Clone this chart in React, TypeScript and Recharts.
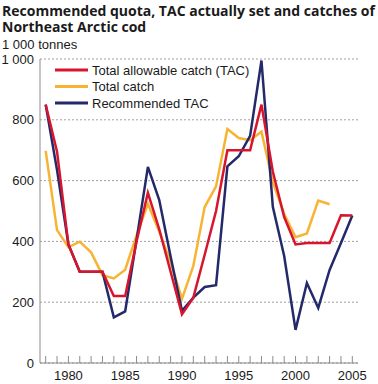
import { LineChart, Line, XAxis, YAxis, CartesianGrid } from 'recharts';

const years = [
  1978, 1979, 1980, 1981, 1982, 1983, 1984, 1985, 1986, 1987, 1988, 1989, 1990, 1991,
  1992, 1993, 1994, 1995, 1996, 1997, 1998, 1999, 2000, 2001, 2002, 2003, 2004, 2005,
];
const tac = [
  850, 695, 390, 300, 300, 300, 220, 220, 400, 560, 440, 300, 160, 215,
  356, 500, 700, 700, 700, 850, 630, 480, 390, 395, 395, 395, 486, 485,
];
const totalCatch: (number | null)[] = [
  698, 437, 381, 399, 364, 289, 278, 307, 420, 524, 432, 332, 211, 319,
  513, 581, 770, 740, 733, 761, 595, 490, 414, 426, 534, 522, null, null,
];
const recommended = [
  850, 635, 390, 300, 300, 300, 150, 170, 405, 645, 536, 350, 172, 215,
  250, 256, 647, 680, 747, 995, 514, 352, 109, 263, 181, 306, 395, 485,
];
const yTicks = [0, 200, 400, 600, 800, 1000];
const labelYears = [1980, 1985, 1990, 1995, 2000, 2005];

const data = years.map((year, i) => ({
  year,
  tac: tac[i],
  totalCatch: totalCatch[i],
  recommended: recommended[i],
}));

const legendItems = [
  { name: 'Total allowable catch (TAC)', color: '#d7152d' },
  { name: 'Total catch', color: '#f7b433' },
  { name: 'Recommended TAC', color: '#24296a' },
];

function LegendBox() {
  return (
    <svg width={220} height={52} style={{ position: 'absolute', left: 50, top: 62 }}>
      {legendItems.map((item, i) => (
        <g key={item.name} transform={`translate(0, ${8 + i * 16.5})`}>
          <line x1={5} x2={38} y1={0} y2={0} stroke={item.color} strokeWidth={3} />
          <text x={42} y={0} dy="0.36em" fontSize={13} fill="#1a1a1a">
            {item.name}
          </text>
        </g>
      ))}
    </svg>
  );
}

function YearTick(props: any) {
  const { x, y, payload } = props;
  const showLabel = labelYears.includes(payload.value);
  return (
    <g>
      <line x1={x} x2={x} y1={y - 7} y2={y} stroke="#8c8c8c" strokeWidth={1} />
      {showLabel && (
        <text x={x} y={y + 12} dy="0.36em" textAnchor="middle" fontSize={13} fill="#1a1a1a">
          {payload.value}
        </text>
      )}
    </g>
  );
}

const titleStyle = {
  position: 'absolute' as const,
  left: 2,
  fontFamily: '"Open Sans", sans-serif',
  fontWeight: 700,
  fontSize: 14,
  lineHeight: '15px',
  color: '#1a1a1a',
  whiteSpace: 'nowrap' as const,
};

export default function App() {
  return (
    <div
      style={{
        position: 'absolute',
        left: 0,
        top: 0,
        width: 378,
        height: 384,
        background: '#fff',
        fontFamily: '"Liberation Sans", Arial, sans-serif',
      }}
    >
      <div style={{ ...titleStyle, top: 3 }}>Recommended quota, TAC actually set and catches of</div>
      <div style={{ ...titleStyle, top: 19 }}>Northeast Arctic cod</div>
      <div style={{ position: 'absolute', left: 2, top: 37, fontSize: 13, lineHeight: '15px', color: '#1a1a1a' }}>
        1 000 tonnes
      </div>
      <LineChart width={378} height={384} data={data} margin={{ top: 59, right: 20, bottom: 0, left: 0 }}>
        <CartesianGrid vertical={false} stroke="#a0a0a0" strokeDasharray="2 2" />
        <XAxis
          dataKey="year"
          type="number"
          domain={[1977.5, 2005.5]}
          ticks={years}
          interval={0}
          height={21}
          tickSize={0}
          tickMargin={0}
          tickLine={false}
          stroke="#8c8c8c"
          tick={<YearTick />}
        />
        <YAxis
          domain={[0, 1000]}
          ticks={yTicks}
          width={40}
          tickLine={false}
          tickSize={0}
          tickMargin={6}
          stroke="#8c8c8c"
          tick={{ fill: '#1a1a1a', fontSize: 13 }}
          tickFormatter={(v: number) => (v >= 1000 ? '1 000' : String(v))}
        />
        <Line dataKey="totalCatch" stroke="#f7b433" strokeWidth={2.5} dot={false} isAnimationActive={false} />
        <Line dataKey="recommended" stroke="#24296a" strokeWidth={2.5} dot={false} isAnimationActive={false} />
        <Line dataKey="tac" stroke="#d7152d" strokeWidth={2.5} dot={false} isAnimationActive={false} />
      </LineChart>
      <LegendBox />
    </div>
  );
}
